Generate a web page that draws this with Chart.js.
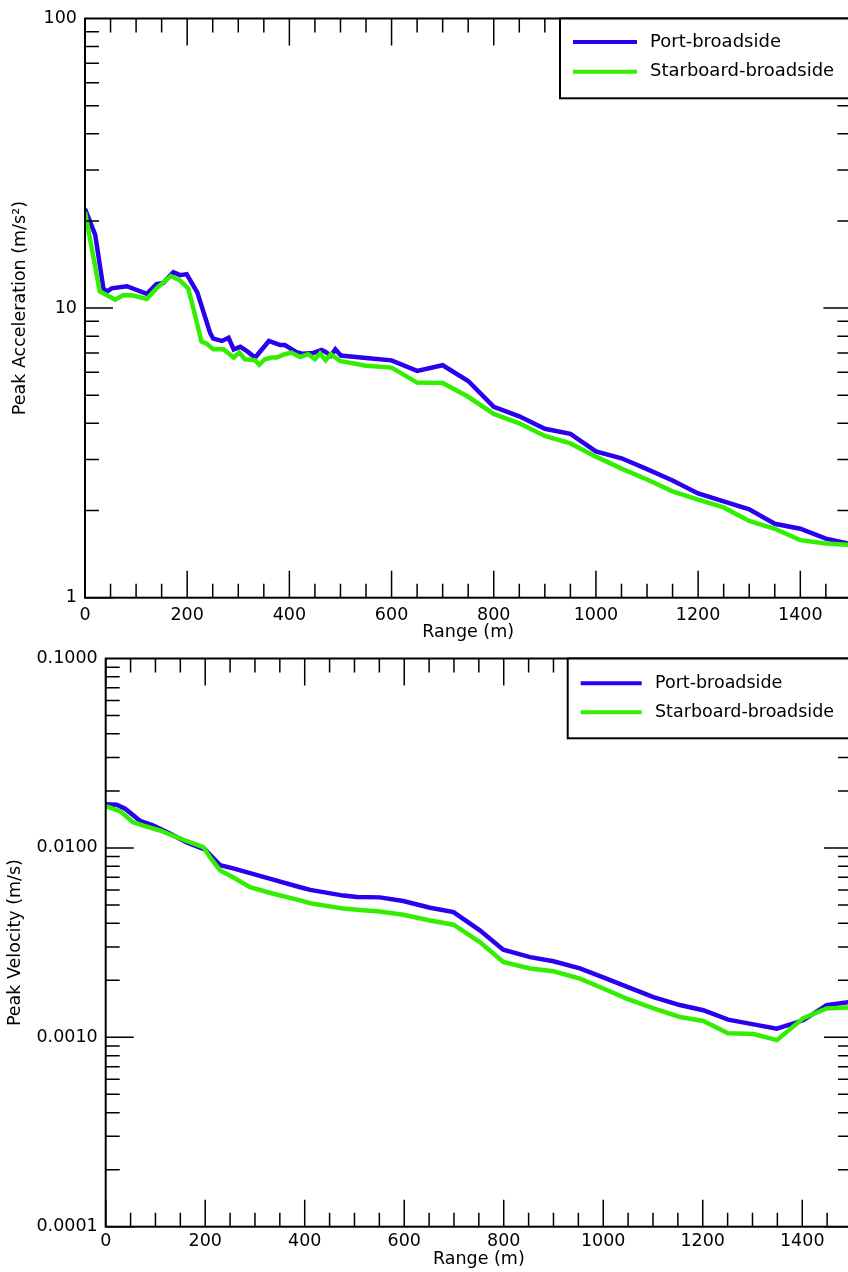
<!DOCTYPE html>
<html>
<head>
<meta charset="utf-8">
<script src="https://cdn.jsdelivr.net/npm/chart.js@4.4.1/dist/chart.umd.min.js"></script>
<style>
  html, body { margin: 0; padding: 0; background: #fff; overflow: hidden; }
  body { width: 848px; height: 1272px; position: relative; }
  canvas { position: absolute; left: 0; }
  #accChart { top: 0; }
  #velChart { top: 640px; }
</style>
</head>
<body>
<canvas id="accChart" width="870" height="645"></canvas>
<canvas id="velChart" width="870" height="632"></canvas>
<script>
// ---- data ----
const rangeTicks = [0, 200, 400, 600, 800, 1000, 1200, 1400];
const rangeTickLabels = ['0', '200', '400', '600', '800', '1000', '1200', '1400'];

// Peak acceleration (m/s^2)
const accPortRange = [0, 20, 36, 43, 52, 82, 121, 140, 153, 173, 186, 199, 220, 245, 251, 268, 281, 291, 304, 317,
  333, 360, 382, 391, 414, 427, 447, 463, 471, 481, 490, 501, 550, 600, 650, 700, 750, 800, 850, 900,
  950, 1000, 1050, 1100, 1150, 1200, 1250, 1300, 1350, 1400, 1450, 1500];
const accPort = [22.0, 17.9, 11.7, 11.4, 11.7, 11.9, 11.2, 12.1, 12.2, 13.3, 13.0, 13.1, 11.3, 8.2, 7.85, 7.7, 7.9, 7.2, 7.35, 7.1,
  6.75, 7.7, 7.45, 7.45, 7.05, 6.95, 7.0, 7.17, 7.06, 6.84, 7.2, 6.86, 6.72, 6.6, 6.07, 6.35, 5.6, 4.56, 4.23, 3.83,
  3.68, 3.2, 3.03, 2.78, 2.54, 2.29, 2.15, 2.02, 1.8, 1.73, 1.6, 1.53];
const accStbdRange = [0, 29, 46, 59, 75, 94, 121, 140, 168, 186, 202, 215, 228, 238, 251, 271, 291, 302, 313,
  333, 341, 352, 365, 375, 391, 404, 421, 437, 450, 460, 471, 481, 499, 550, 600, 650, 700, 750, 800,
  850, 900, 950, 1000, 1050, 1100, 1150, 1200, 1250, 1300, 1350, 1400, 1450, 1500];
const accStbd = [21.5, 11.4, 11.0, 10.7, 11.1, 11.05, 10.76, 11.7, 12.9, 12.45, 11.7, 9.5, 7.66, 7.54, 7.21, 7.21, 6.75, 7.02, 6.66,
  6.61, 6.37, 6.66, 6.75, 6.75, 6.93, 7.02, 6.78, 6.93, 6.66, 6.97, 6.61, 6.93, 6.57, 6.32, 6.23, 5.53, 5.51, 4.94, 4.31,
  4.0, 3.62, 3.41, 3.07, 2.79, 2.56, 2.33, 2.18, 2.05, 1.84, 1.73, 1.58, 1.54, 1.52];
const accTicks = [1, 10, 100];
const accTickLabels = ['1', '10', '100'];

// Peak velocity (m/s)
const velPortRange = [0, 22, 39, 69, 96, 129, 163, 200, 230, 256, 283, 324, 391, 411, 478, 505, 551, 598, 652, 699,
  752, 799, 853, 900, 953, 1000, 1047, 1101, 1154, 1201, 1251, 1302, 1349, 1402, 1449, 1500];
const velPort = [0.0170, 0.0169, 0.0161, 0.0139, 0.0131, 0.0119, 0.0107, 0.0098, 0.0081, 0.0078, 0.00745, 0.00695, 0.0062, 0.0060, 0.0056, 0.0055, 0.00548, 0.00524, 0.00483, 0.00458,
  0.00367, 0.0029, 0.00265, 0.00252, 0.00231, 0.00207, 0.00185, 0.00163, 0.00148, 0.00139, 0.00124, 0.00117, 0.00111, 0.00123, 0.00148, 0.00154];
const velStbdRange = [0, 29, 55, 76, 109, 156, 196, 210, 230, 256, 290, 337, 391, 411, 478, 505, 551, 598, 652, 699,
  752, 799, 853, 900, 953, 1000, 1047, 1101, 1154, 1201, 1251, 1302, 1349, 1402, 1449, 1500];
const velStbd = [0.0166, 0.0156, 0.01366, 0.0131, 0.01236, 0.01104, 0.0101, 0.0089, 0.0076, 0.0070, 0.0062, 0.00573, 0.00528, 0.0051, 0.00478, 0.00472, 0.00462, 0.00444, 0.00414, 0.00393,
  0.00318, 0.0025, 0.00231, 0.00223, 0.00204, 0.00181, 0.0016, 0.00142, 0.00128, 0.00122, 0.00105, 0.00104, 0.000966, 0.00126, 0.00142, 0.00144];
const velTicks = [0.0001, 0.001, 0.01, 0.1];
const velTickLabels = ['0.0001', '0.0010', '0.0100', '0.1000'];

const seriesNames = ['Port-broadside', 'Starboard-broadside'];
const PORT_COLOR = '#2a00ee';
const STBD_COLOR = '#33ee00';

Chart.defaults.font.family = "'DejaVu Sans', sans-serif";
Chart.defaults.color = '#000';

// frame, inward ticks on all four sides, and the boxed legend
const frameTicks = {
  id: 'frameTicks',
  afterDatasetsDraw(chart, args, opts) {
    const { ctx, chartArea: a } = chart;
    const x = chart.scales.x, y = chart.scales.y;
    ctx.save();
    ctx.strokeStyle = '#000';
    ctx.lineWidth = 1.5;
    ctx.beginPath();
    for (let v = x.min; v <= x.max; v += 50) {
      const px = x.getPixelForValue(v);
      const len = v % 200 === 0 ? 27 : 14;
      ctx.moveTo(px, a.bottom); ctx.lineTo(px, a.bottom - len);
      ctx.moveTo(px, a.top); ctx.lineTo(px, a.top + len);
    }
    const e0 = Math.round(Math.log10(y.min)), e1 = Math.round(Math.log10(y.max));
    for (let e = e0; e < e1; e++) {
      for (let k = 1; k <= 9; k++) {
        const py = y.getPixelForValue(k * Math.pow(10, e));
        const len = k === 1 ? 28 : 14;
        ctx.moveTo(a.left, py); ctx.lineTo(a.left + len, py);
        ctx.moveTo(a.right, py); ctx.lineTo(a.right - len, py);
      }
    }
    ctx.stroke();
    ctx.lineWidth = 2;
    ctx.strokeRect(a.left, a.top, a.right - a.left, a.bottom - a.top);

    const lg = opts.legend;
    ctx.fillStyle = '#fff';
    ctx.fillRect(lg.left, a.top, a.right - lg.left, lg.bottom - a.top);
    ctx.strokeRect(lg.left, a.top, a.right - lg.left, lg.bottom - a.top);
    ctx.font = lg.fontSize + "px 'DejaVu Sans'";
    ctx.textBaseline = 'middle';
    chart.data.datasets.forEach((ds, i) => {
      const ly = lg.rows[i];
      ctx.strokeStyle = ds.borderColor;
      ctx.lineWidth = 4;
      ctx.beginPath(); ctx.moveTo(lg.lineFrom, ly); ctx.lineTo(lg.lineTo, ly); ctx.stroke();
      ctx.fillStyle = '#000';
      ctx.fillText(ds.label, lg.textX, ly);
    });
    ctx.restore();
  }
};

function makeChart(canvasId, s) {
  const ctx = document.getElementById(canvasId).getContext('2d');
  return new Chart(ctx, {
    type: 'line',
    data: {
      datasets: [
        { label: seriesNames[0], data: s.portX.map((r, i) => ({ x: r, y: s.port[i] })),
          borderColor: PORT_COLOR, borderWidth: 4.5, pointRadius: 0, tension: 0, fill: false, order: 1 },
        { label: seriesNames[1], data: s.stbdX.map((r, i) => ({ x: r, y: s.stbd[i] })),
          borderColor: STBD_COLOR, borderWidth: 4.5, pointRadius: 0, tension: 0, fill: false, order: 0 }
      ]
    },
    options: {
      responsive: false,
      animation: false,
      devicePixelRatio: 1,
      layout: { padding: { top: s.padTop, right: s.padRight, left: 0, bottom: 0 } },
      plugins: {
        legend: { display: false },
        tooltip: { enabled: false },
        frameTicks: { legend: s.legend }
      },
      scales: {
        x: {
          type: 'linear', min: 0, max: 1500,
          grid: { display: false, drawTicks: false },
          border: { display: false },
          afterBuildTicks: sc => { sc.ticks = rangeTicks.map(v => ({ value: v })); },
          afterFit: sc => { sc.height = s.xHeight; },
          ticks: { font: { size: 17.5 }, padding: s.xLabelPad, maxRotation: 0, autoSkip: false,
            callback: (v, i) => rangeTickLabels[i] },
          title: { display: true, text: 'Range (m)', font: { size: 17.5 }, padding: { top: 0, bottom: s.xTitlePad } }
        },
        y: {
          type: 'logarithmic', min: s.yTicks[0], max: s.yTicks[s.yTicks.length - 1],
          grid: { display: false, drawTicks: false },
          border: { display: false },
          afterBuildTicks: sc => { sc.ticks = s.yTicks.map(v => ({ value: v })); },
          afterFit: sc => { sc.width = s.yWidth; },
          ticks: { font: { size: 17.5 }, padding: 8, autoSkip: false, callback: (v, i) => s.yLabels[i] },
          title: { display: true, text: s.yTitle, font: { size: 17.5 }, padding: { top: s.yTitlePad, bottom: 0 } }
        }
      }
    },
    plugins: [frameTicks]
  });
}

makeChart('accChart', {
  portX: accPortRange, port: accPort, stbdX: accStbdRange, stbd: accStbd,
  yTicks: accTicks, yLabels: accTickLabels, yTitle: 'Peak Acceleration (m/s²)',
  padTop: 16, padRight: 18.6, yWidth: 85, xHeight: 47.3, xLabelPad: 7, xTitlePad: 2, yTitlePad: 9.5,
  legend: { left: 560, bottom: 98.3, rows: [42, 71.7], lineFrom: 573, lineTo: 637, textX: 650, fontSize: 18 }
});

makeChart('velChart', {
  portX: velPortRange, port: velPort, stbdX: velStbdRange, stbd: velStbd,
  yTicks: velTicks, yLabels: velTickLabels, yTitle: 'Peak Velocity (m/s)',
  padTop: 17.7, padRight: 18, yWidth: 105.7, xHeight: 45.3, xLabelPad: 4, xTitlePad: 2, yTitlePad: 5,
  legend: { left: 567.7, bottom: 98.3, rows: [43.3, 72.3], lineFrom: 580.7, lineTo: 641.7, textX: 655, fontSize: 17.5 }
});
</script>
</body>
</html>
